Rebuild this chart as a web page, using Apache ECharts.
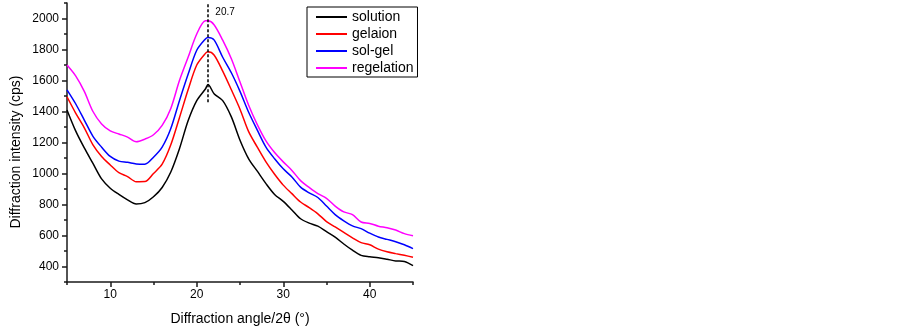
<!DOCTYPE html>
<html>
<head>
<meta charset="utf-8">
<script src="https://cdn.jsdelivr.net/npm/echarts@6/dist/echarts.min.js"></script>
<style>
    html, body { margin: 0; padding: 0; background: #fff; }
    #chart { width: 903px; height: 331px; }
</style>
</head>
<body>
<div id="chart"></div>
<script>
// diffraction angle 2θ (°)
let angles = [5, 6, 7, 8, 9, 10, 11, 12, 13, 14, 15, 16, 17, 18, 19, 20, 21, 21.3, 22, 23, 24, 25,
    26, 27, 28, 29, 30, 31, 32, 33, 34, 35, 36, 37, 38, 39, 40, 41, 42, 43, 44, 45];

let seriesNames = ['solution', 'gelaion', 'sol-gel', 'regelation'];
let seriesColors = ['#000000', '#ff0000', '#0000ff', '#ff00ff'];

let solution = [1410, 1275, 1165, 1065, 965, 905, 865, 830, 803, 812, 850, 910, 1010, 1160, 1340, 1470, 1545, 1575, 1515, 1470, 1365, 1215,
    1095, 1015, 935, 865, 820, 765, 708, 680, 660, 625, 590, 545, 505, 472, 463, 457, 447, 436, 432, 405];
let gelaion = [1495, 1390, 1295, 1185, 1110, 1055, 1005, 980, 947, 948, 1000, 1060, 1185, 1360, 1540, 1700, 1775, 1785, 1765, 1660, 1540, 1415,
    1270, 1170, 1075, 995, 925, 870, 816, 780, 740, 690, 655, 620, 585, 554, 540, 512, 495, 483, 472, 460];
let solGel = [1540, 1450, 1345, 1240, 1170, 1110, 1080, 1072, 1062, 1060, 1105, 1170, 1290, 1470, 1640, 1795, 1868, 1878, 1862, 1750, 1650, 1530,
    1395, 1280, 1170, 1095, 1030, 978, 912, 875, 845, 790, 735, 695, 662, 644, 615, 590, 575, 560, 540, 515];
let regelation = [1700, 1630, 1530, 1400, 1320, 1275, 1255, 1235, 1205, 1222, 1250, 1310, 1420, 1600, 1750, 1900, 1985, 1985, 1960, 1860, 1740, 1590,
    1440, 1315, 1210, 1135, 1075, 1020, 954, 910, 870, 840, 790, 752, 735, 687, 678, 660, 650, 635, 612, 598];

let seriesValues = [solution, gelaion, solGel, regelation];

// ticks
let xLabels = [10, 20, 30, 40];
let xMinorTicks = [5, 15, 25, 35, 45];
let yLabels = [400, 600, 800, 1000, 1200, 1400, 1600, 1800, 2000];
let yMinorTicks = [300, 500, 700, 900, 1100, 1300, 1500, 1700, 1900, 2100];

// peak marker
let peakLine = [[21.3, 1460], [21.3, 2100]];
let peakText = '20.7';
let peakTextAt = [22.15, 2040];

let font = "'Liberation Sans', Arial, sans-serif";

let myChart = echarts.init(document.getElementById('chart'));

let series = seriesNames.map((name, i) => ({
    name: name,
    type: 'line',
    showSymbol: false,
    symbol: 'none',
    silent: true,
    smooth: 0.3,
    lineStyle: { color: seriesColors[i], width: 1.5 },
    itemStyle: { color: seriesColors[i] },
    data: angles.map((a, k) => [a, seriesValues[i][k]])
}));

// 虚线 + 标注
series[0].markLine = {
    silent: true,
    symbol: 'none',
    label: { show: false },
    lineStyle: { color: '#000', width: 1.5, type: [3, 2] },
    data: [[{ coord: peakLine[0] }, { coord: peakLine[1] }]]
};
series[0].markPoint = {
    symbol: 'circle',
    symbolSize: 0,
    label: {
        show: true,
        position: 'right',
        distance: 0,
        formatter: peakText,
        color: '#000',
        fontSize: 10,
        fontFamily: font
    },
    data: [{ coord: peakTextAt }]
};

let axisLine = { show: true, lineStyle: { color: '#1a1a1a', width: 1.5 } };
let plain = (v) => String(v);

let option = {
    animation: false,
    backgroundColor: '#fff',
    textStyle: { fontFamily: font },
    grid: { left: 67, right: 490, top: 3, bottom: 48 },
    legend: {
        orient: 'vertical',
        left: 307,
        top: 7,
        data: seriesNames,
        icon: 'rect',
        itemWidth: 31,
        itemHeight: 2,
        itemGap: 1,
        padding: [2, 4, 1, 9],
        borderColor: '#000',
        borderWidth: 1,
        textStyle: { fontSize: 14, lineHeight: 16, color: '#000', fontFamily: font }
    },
    xAxis: [{
        type: 'value',
        min: 5,
        max: 45,
        interval: 5,
        position: 'bottom',
        splitLine: { show: false },
        axisLine: axisLine,
        axisTick: { show: true, length: 5, customValues: xLabels, lineStyle: { color: '#1a1a1a', width: 1.5 } },
        axisLabel: { customValues: xLabels, formatter: plain, margin: 7, fontSize: 12, color: '#000', fontFamily: font },
        name: 'Diffraction angle/2θ (°)',
        nameLocation: 'middle',
        nameGap: 30,
        nameTextStyle: { fontSize: 14, color: '#000', fontFamily: font }
    }, {
        type: 'value',
        min: 5,
        max: 45,
        interval: 5,
        position: 'bottom',
        splitLine: { show: false },
        axisLine: { show: false },
        axisTick: { show: true, length: 3, customValues: xMinorTicks, lineStyle: { color: '#1a1a1a', width: 1.5 } },
        axisLabel: { show: false }
    }],
    yAxis: [{
        type: 'value',
        min: 300,
        max: 2100,
        interval: 100,
        position: 'left',
        splitLine: { show: false },
        axisLine: axisLine,
        axisTick: { show: true, length: 5, customValues: yLabels, lineStyle: { color: '#1a1a1a', width: 1.5 } },
        axisLabel: { customValues: yLabels, formatter: plain, margin: 8, fontSize: 12, color: '#000', fontFamily: font }
    }, {
        type: 'value',
        min: 300,
        max: 2100,
        interval: 100,
        position: 'left',
        splitLine: { show: false },
        axisLine: { show: false },
        axisTick: { show: true, length: 3, customValues: yMinorTicks, lineStyle: { color: '#1a1a1a', width: 1.5 } },
        axisLabel: { show: false }
    }],
    graphic: [{
        type: 'text',
        x: 16,
        y: 152,
        rotation: Math.PI / 2,
        style: {
            text: 'Diffraction intensity (cps)',
            font: '14px ' + font,
            fill: '#000',
            textAlign: 'center',
            textVerticalAlign: 'middle'
        }
    }],
    series: series
};

myChart.setOption(option);
</script>
</body>
</html>
